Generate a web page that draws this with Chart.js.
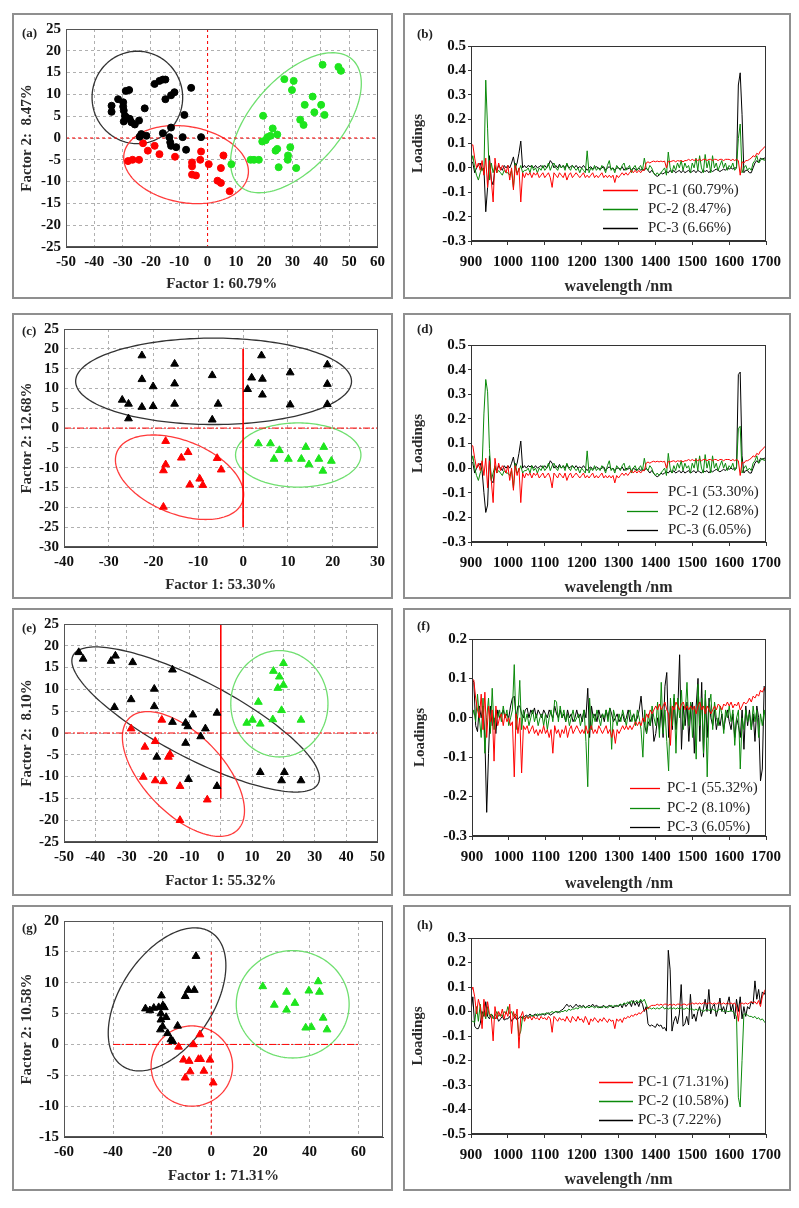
<!DOCTYPE html>
<html>
<head>
<meta charset="utf-8">
<script src="https://cdn.jsdelivr.net/npm/chart.js@4.4.1/dist/chart.umd.min.js"></script>
<style>
  html, body { margin: 0; padding: 0; background: #fff; }
  body { width: 799px; height: 1208px; position: relative; overflow: hidden; font-family: 'Liberation Serif', serif; }
  .panel { position: absolute; border: 2px solid #8f8f8f; box-sizing: border-box; background: #fff; }
  .panel canvas { position: absolute; left: 0; top: 0; }
  .tag { position: absolute; font: bold 13px 'Liberation Serif', serif; line-height: 13px; color: #222; }
</style>
</head>
<body>
<div class="panel" style="left:12px;top:13px;width:381px;height:286px"><canvas id="ca" width="377" height="282"></canvas><div class="tag" style="left:8px;top:11px">(a)</div></div>
<div class="panel" style="left:403px;top:13px;width:388px;height:286px"><canvas id="cb" width="384" height="282"></canvas><div class="tag" style="left:12px;top:12px">(b)</div></div>
<div class="panel" style="left:12px;top:313px;width:381px;height:286px"><canvas id="cc" width="377" height="282"></canvas><div class="tag" style="left:8px;top:9px">(c)</div></div>
<div class="panel" style="left:403px;top:313px;width:388px;height:286px"><canvas id="cd" width="384" height="282"></canvas><div class="tag" style="left:12px;top:7px">(d)</div></div>
<div class="panel" style="left:12px;top:608px;width:381px;height:288px"><canvas id="ce" width="377" height="284"></canvas><div class="tag" style="left:8px;top:11px">(e)</div></div>
<div class="panel" style="left:403px;top:608px;width:388px;height:288px"><canvas id="cf" width="384" height="284"></canvas><div class="tag" style="left:12px;top:9px">(f)</div></div>
<div class="panel" style="left:12px;top:905px;width:381px;height:286px"><canvas id="cg" width="377" height="282"></canvas><div class="tag" style="left:8px;top:14px">(g)</div></div>
<div class="panel" style="left:403px;top:905px;width:388px;height:286px"><canvas id="ch" width="384" height="282"></canvas><div class="tag" style="left:12px;top:11px">(h)</div></div>

<script>
// ---------- score plots: [Factor 1, Factor 2] per sample ----------
const aBlack = [[-33.9,7.4],[-33.9,6.0],[-31.6,8.9],[-29.8,8.2],[-29.8,7.2],[-28.9,10.8],[-27.7,11.0],[-29.6,6.3],[-29.2,5.1],[-28.7,4.7],[-29.6,3.8],[-27.5,4.4],[-26.9,3.6],[-25.7,3.1],[-24.2,4.0],[-22.2,6.8],[-18.7,12.4],[-17.0,13.1],[-15.8,13.4],[-14.9,13.4],[-14.9,8.9],[-12.9,9.8],[-11.7,10.5],[-5.8,11.5],[-8.2,5.3],[-12.9,2.4],[-23.4,0.9],[-21.6,0.5],[-15.8,1.1],[-13.5,0.2],[-13.2,-1.0],[-11.1,-2.1],[-8.8,0.2],[-7.6,-2.7],[-2.3,0.2],[-24.0,0.3],[-12.9,-1.8]];
const aRed = [[-22.8,-1.2],[-21.1,-2.9],[-18.7,-1.8],[-17.0,-3.7],[-28.1,-5.3],[-26.5,-5.0],[-24.2,-5.0],[-11.5,-4.3],[-5.5,-5.6],[-5.5,-6.5],[-5.5,-8.4],[-4.1,-8.6],[-2.3,-3.1],[-2.6,-5.0],[0.4,-6.0],[4.7,-6.9],[5.6,-4.0],[3.5,-9.8],[4.7,-10.3],[7.8,-12.2]];
const aGreen = [[8.4,-6.0],[15.2,-5.0],[16.4,-5.0],[18.1,-5.0],[19.6,5.1],[19.3,-0.8],[20.5,-0.5],[21.1,0.2],[22.2,0.5],[23.0,2.2],[24.6,0.8],[24.0,-2.9],[24.6,-2.5],[25.1,-6.7],[27.1,13.5],[30.4,13.1],[29.8,11.0],[29.2,-2.1],[28.4,-4.0],[28.3,-5.0],[31.3,-6.9],[32.7,4.2],[33.9,3.0],[34.3,7.6],[37.1,9.5],[37.7,5.9],[40.1,7.6],[41.3,5.3],[40.6,16.8],[46.2,16.3],[47.1,15.4]];

const cBlack = [[-22.6,18.3],[-27.0,7.1],[-25.6,6.1],[-25.6,2.4],[-22.6,12.3],[-22.6,5.3],[-20.1,10.5],[-20.1,5.5],[-15.3,16.2],[-15.3,11.2],[-15.3,6.1],[-6.9,13.3],[-5.6,6.1],[-6.9,2.1],[4.1,18.3],[1.9,12.7],[4.3,12.4],[1.0,9.8],[4.3,8.4],[10.5,14.0],[10.5,5.9],[18.8,16.0],[18.8,11.1],[18.8,6.0]];
const cRed = [[-17.3,-3.3],[-17.3,-9.2],[-17.8,-10.7],[-13.8,-7.5],[-12.3,-6.1],[-5.8,-7.6],[-4.9,-10.5],[-11.9,-14.3],[-9.7,-12.8],[-9.0,-14.4],[-17.8,-19.9]];
const cGreen = [[3.4,-3.9],[6.1,-3.9],[8.1,-5.6],[6.9,-7.8],[10.1,-7.8],[13.0,-7.8],[14.0,-4.8],[14.7,-9.2],[16.9,-7.8],[18.0,-4.8],[17.8,-10.8],[19.7,-8.3]];

const eBlack = [[-45.3,18.5],[-43.9,17.0],[-35.0,16.5],[-33.6,17.7],[-28.1,16.2],[-15.4,14.5],[-21.2,10.1],[-21.2,6.1],[-28.6,7.7],[-33.9,5.9],[-8.9,4.2],[-1.2,4.6],[-15.4,2.5],[-11.2,2.3],[-10.5,1.5],[-4.9,1.0],[-6.4,-0.8],[-11.2,-2.3],[-20.4,-5.5],[-10.3,-10.6],[-1.2,-12.2],[12.6,-9.0],[20.3,-9.0],[19.4,-10.9],[25.6,-10.9]];
const eRed = [[-28.6,1.0],[-18.8,3.0],[-24.2,-3.2],[-20.9,-1.9],[-16.2,-4.9],[-16.7,-5.5],[-24.7,-10.1],[-20.9,-10.9],[-18.3,-11.1],[-13.0,-12.2],[-4.3,-15.3],[-13.0,-20.0]];
const eGreen = [[20.0,16.0],[16.8,14.2],[18.7,12.9],[18.2,10.3],[20.0,11.0],[12.0,7.1],[8.3,2.3],[10.1,3.0],[12.6,2.1],[16.6,3.1],[19.4,5.2],[25.6,3.0]];

const gBlack = [[-6.2,14.3],[-9.3,8.8],[-10.6,7.8],[-6.9,8.8],[-25.0,5.5],[-23.4,5.9],[-20.3,7.9],[-19.7,6.3],[-19.1,6.0],[-20.5,5.0],[-18.4,4.4],[-20.5,4.0],[-19.8,2.9],[-20.7,2.4],[-17.8,1.8],[-16.4,0.8],[-15.7,0.5],[-13.7,3.0],[-21.4,6.0],[-26.8,5.8]];
const gRed = [[-13.3,-0.4],[-7.3,0.0],[-4.6,1.6],[-11.3,-2.5],[-9.0,-2.7],[-5.2,-2.4],[-4.3,-2.4],[-0.5,-2.5],[-8.6,-4.4],[-3.0,-4.3],[-10.6,-5.4],[0.8,-6.2]];
const gGreen = [[21.0,9.4],[25.7,6.4],[30.7,8.5],[30.7,5.6],[34.1,6.7],[39.8,8.7],[43.6,10.2],[44.1,8.5],[45.6,4.3],[38.5,2.7],[40.8,2.8],[47.2,2.4]];
const gTicksX = [-60, -40, -20, 0, 20, 40, 60];

// confidence ellipses: [cx, cy, ux, uy, vx, vy] in data units (black, red, green)
const aEllipses = [[-24.8,9.3,16,0,0,10.6],[-7.6,-6.1,21.9,-2.5,2.3,8.6],[31.2,3.5,19.9,14.5,11.7,-6.9]];
const cEllipses = [[-6.6,11.8,30.8,0,0,10.9],[-14.2,-12.4,14.0,-6.3,3.0,8.6],[12.3,-6.8,14.0,0,0,8.1]];
const eEllipses = [[-8.0,3.1,39.1,-14.7,5.6,7.8],[-11.9,-9.4,17.0,-13.0,9.5,6.0],[18.7,6.7,15.5,0,0,12.2]];
const gEllipses = [[-18.0,7.3,18.2,10.8,15.6,-4.2],[-7.9,-3.5,16.6,0,0,6.5],[33.2,6.5,23.0,0,0,8.7]];

// red reference lines through the origin
const aCrossV = [[0,25],[0,-25]],  aCrossH = [[-50,0],[60,0]];
const cCrossV = [[0,20],[0,-25]],  cCrossH = [[-40,0],[30,0]];
const eCrossV = [[0,25],[0,-15]],  eCrossH = [[-50,0],[50,0]];
const gCrossV = [[0,15],[0,-15]],  gCrossH = [[-40,0],[60,0]];

// ---------- loadings ----------
const wl = [900,905,910,915,920,925,930,935,940,945,
950,955,960,965,970,975,980,985,990,995,
1000,1005,1010,1015,1020,1025,1030,1035,1040,1045,
1050,1055,1060,1065,1070,1075,1080,1085,1090,1095,
1100,1105,1110,1115,1120,1125,1130,1135,1140,1145,
1150,1155,1160,1165,1170,1175,1180,1185,1190,1195,
1200,1205,1210,1215,1220,1225,1230,1235,1240,1245,
1250,1255,1260,1265,1270,1275,1280,1285,1290,1295,
1300,1305,1310,1315,1320,1325,1330,1335,1340,1345,
1350,1355,1360,1365,1370,1375,1380,1385,1390,1395,
1400,1405,1410,1415,1420,1425,1430,1435,1440,1445,
1450,1455,1460,1465,1470,1475,1480,1485,1490,1495,
1500,1505,1510,1515,1520,1525,1530,1535,1540,1545,
1550,1555,1560,1565,1570,1575,1580,1585,1590,1595,
1600,1605,1610,1615,1620,1625,1630,1635,1640,1645,
1650,1655,1660,1665,1670,1675,1680,1685,1690,1695,
1700];

const bPC1 = [0.09,0.095,0.04,0.0,0.02,-0.01,0.03,-0.03,0.04,-0.08,
0.03,-0.05,-0.14,0.04,-0.02,0.02,-0.01,0.01,0.0,-0.02,
0.01,-0.05,0.0,-0.09,0.01,-0.03,0.0,-0.14,-0.02,-0.04,
-0.02,-0.03,-0.02,-0.04,-0.02,-0.03,-0.02,-0.04,-0.03,-0.02,
-0.04,-0.03,-0.02,-0.04,-0.08,-0.02,-0.03,-0.04,-0.02,-0.03,
-0.04,-0.02,-0.05,-0.03,-0.02,-0.04,-0.03,-0.02,-0.03,-0.04,
-0.03,-0.02,-0.04,-0.03,-0.04,-0.03,-0.02,-0.04,-0.03,-0.04,
-0.03,-0.02,-0.04,-0.03,-0.04,-0.03,-0.04,-0.03,-0.06,-0.03,
-0.04,-0.03,-0.02,-0.03,-0.02,-0.03,-0.02,-0.01,-0.02,-0.01,
-0.02,-0.01,-0.02,-0.01,-0.01,0.02,0.025,0.02,0.025,0.028,
0.025,0.028,0.025,0.028,0.025,0.028,0.0,0.028,0.025,0.028,
0.03,0.025,0.03,0.028,0.03,0.025,0.03,0.03,0.035,0.03,
0.035,0.03,0.035,0.03,0.035,0.03,0.035,0.035,0.03,0.035,
0.035,0.03,0.035,0.035,0.03,0.035,0.035,0.03,0.035,0.035,
0.035,0.03,0.035,0.03,0.035,0.03,-0.03,0.025,0.02,0.03,
0.03,0.035,0.04,0.05,0.045,0.06,0.055,0.07,0.075,0.085,
0.09];
const bPC2 = [0.02,0.05,0.0,-0.03,-0.05,-0.02,0.0,-0.02,0.36,0.16,
-0.05,0.02,-0.02,0.01,-0.02,-0.01,-0.02,-0.03,-0.01,-0.02,
-0.02,-0.03,-0.01,-0.08,0.02,-0.02,-0.01,0.01,-0.02,-0.01,
-0.01,0.0,-0.02,0.01,-0.01,0.0,-0.02,0.0,-0.01,0.01,
-0.01,0.0,0.02,-0.01,0.01,0.02,0.0,-0.01,0.01,0.0,
0.01,-0.01,0.02,0.0,-0.01,0.01,0.0,-0.01,0.0,-0.02,
0.0,-0.01,-0.02,0.07,-0.02,0.0,-0.01,0.01,-0.01,0.0,
-0.01,0.01,0.0,-0.02,0.01,0.03,-0.01,0.0,-0.02,0.01,
0.0,-0.01,0.01,0.02,-0.01,0.0,0.01,-0.02,0.0,0.01,
-0.01,0.0,0.01,-0.01,0.04,0.0,-0.01,0.01,0.0,-0.02,
-0.03,-0.02,-0.03,-0.02,-0.01,0.0,-0.03,0.065,0.0,-0.02,
0.01,-0.01,0.02,0.0,0.03,-0.01,0.02,0.0,0.01,-0.02,
0.02,0.0,0.04,-0.01,0.05,0.0,-0.02,0.055,0.0,0.03,
-0.02,0.05,0.0,0.02,-0.01,0.01,0.03,0.0,0.02,-0.01,
0.01,0.0,0.02,-0.01,0.0,0.12,0.18,-0.02,0.0,0.01,
-0.01,0.0,-0.01,0.02,0.03,0.05,0.02,0.03,0.04,0.03,
0.04];
const bPC3 = [0.03,0.02,-0.02,0.0,0.01,0.02,-0.01,0.0,-0.18,-0.08,
0.05,-0.05,-0.07,0.0,-0.01,0.01,0.0,-0.01,0.01,0.0,
0.01,0.0,0.02,0.045,0.0,0.02,0.06,0.11,0.0,0.01,
0.0,0.01,0.005,0.01,0.0,0.01,0.0,0.005,0.01,0.0,
0.01,0.0,0.01,0.03,0.02,0.0,0.01,0.0,0.015,0.0,
0.01,0.0,0.015,0.0,0.005,0.01,0.0,0.01,0.0,0.005,
0.0,0.01,0.0,-0.01,0.0,0.005,-0.005,0.0,0.005,0.0,
-0.005,0.0,0.005,-0.01,0.0,0.005,-0.005,0.0,-0.01,0.0,
0.0,-0.005,0.005,-0.01,0.0,-0.005,0.0,-0.01,0.0,-0.005,
-0.01,0.0,-0.01,-0.005,-0.01,0.0,-0.01,-0.02,-0.01,-0.02,
-0.03,-0.035,-0.03,-0.02,-0.025,-0.02,-0.015,-0.02,-0.01,-0.02,
-0.01,-0.02,-0.015,-0.01,-0.02,-0.01,-0.02,-0.015,-0.01,-0.02,
-0.015,-0.01,-0.02,-0.01,-0.015,-0.02,-0.01,-0.015,-0.01,-0.02,
-0.01,-0.015,-0.01,-0.005,-0.01,-0.015,-0.01,-0.005,-0.01,0.0,
-0.005,0.0,-0.005,0.0,0.0,0.34,0.39,0.22,-0.02,-0.01,
-0.01,-0.02,-0.02,0.0,0.02,0.03,0.02,0.04,0.035,0.04,
0.04];

const dPC1 = [0.095,0.09,0.04,0.0,0.02,-0.01,0.03,-0.03,0.04,-0.08,
0.03,-0.05,-0.14,0.04,-0.02,0.02,-0.01,0.01,0.0,-0.02,
0.01,-0.05,0.0,-0.09,0.01,-0.03,0.0,-0.14,-0.02,-0.04,
-0.02,-0.03,-0.02,-0.04,-0.02,-0.03,-0.02,-0.04,-0.03,-0.02,
-0.04,-0.03,-0.02,-0.04,-0.08,-0.02,-0.03,-0.04,-0.02,-0.03,
-0.04,-0.02,-0.05,-0.03,-0.02,-0.04,-0.03,-0.02,-0.03,-0.04,
-0.03,-0.02,-0.04,-0.03,-0.04,-0.03,-0.02,-0.04,-0.03,-0.04,
-0.03,-0.02,-0.04,-0.03,-0.04,-0.03,-0.04,-0.03,-0.06,-0.03,
-0.04,-0.03,-0.02,-0.03,-0.02,-0.03,-0.02,-0.01,-0.02,-0.01,
-0.02,-0.01,-0.02,-0.01,-0.01,0.02,0.025,0.02,0.025,0.028,
0.025,0.028,0.025,0.028,0.025,0.028,0.0,0.028,0.025,0.028,
0.03,0.025,0.03,0.028,0.03,0.025,0.03,0.03,0.035,0.03,
0.035,0.03,0.035,0.03,0.035,0.03,0.035,0.035,0.03,0.035,
0.035,0.03,0.035,0.035,0.03,0.035,0.035,0.03,0.035,0.035,
0.035,0.03,0.035,0.03,0.035,0.03,-0.03,0.025,0.02,0.03,
0.03,0.035,0.04,0.05,0.045,0.06,0.055,0.07,0.075,0.085,
0.09];
const dPC2 = [0.02,0.05,0.0,-0.03,-0.05,-0.02,0.0,0.22,0.36,0.31,
0.08,-0.05,-0.02,0.01,-0.02,-0.01,-0.02,-0.03,-0.01,-0.02,
-0.02,-0.03,-0.01,-0.08,0.02,-0.02,-0.01,0.01,-0.02,-0.01,
-0.01,0.0,-0.02,0.01,-0.01,0.0,-0.02,0.0,-0.01,0.01,
-0.01,0.0,0.02,-0.01,0.01,0.02,0.0,-0.01,0.01,0.0,
0.01,-0.01,0.02,0.0,-0.01,0.01,0.0,-0.01,0.0,-0.02,
0.0,-0.01,-0.02,0.07,-0.02,0.0,-0.01,0.01,-0.01,0.0,
-0.01,0.01,0.0,-0.02,0.01,0.03,-0.01,0.0,-0.02,0.01,
0.0,-0.01,0.01,0.02,-0.01,0.0,0.01,-0.02,0.0,0.01,
-0.01,0.0,0.01,-0.01,0.04,0.0,-0.01,0.01,0.0,-0.02,
-0.03,-0.02,-0.03,-0.02,-0.01,0.0,-0.03,0.06,0.0,-0.02,
0.01,-0.01,0.02,0.0,0.03,-0.01,0.02,0.0,0.01,-0.02,
0.02,0.0,0.04,-0.01,0.05,0.0,-0.02,0.055,0.0,0.03,
-0.02,0.05,0.0,0.02,-0.01,0.01,0.03,0.0,0.02,-0.01,
0.01,0.0,0.02,-0.01,0.0,0.16,0.17,-0.02,0.0,0.01,
-0.01,0.0,-0.01,0.02,0.03,0.05,0.02,0.03,0.04,0.03,
0.04];
const dPC3 = [0.03,0.02,-0.02,0.0,0.01,0.02,-0.01,-0.1,-0.18,-0.15,
0.05,-0.05,-0.06,0.0,-0.01,0.01,0.0,-0.01,0.01,0.0,
0.01,0.0,0.02,0.045,0.0,0.02,0.06,0.11,0.0,0.01,
0.0,0.01,0.005,0.01,0.0,0.01,0.0,0.005,0.01,0.0,
0.01,0.0,0.01,0.03,0.02,0.0,0.01,0.0,0.015,0.0,
0.01,0.0,0.015,0.0,0.005,0.01,0.0,0.01,0.0,0.005,
0.0,0.01,0.0,-0.01,0.0,0.005,-0.005,0.0,0.005,0.0,
-0.005,0.0,0.005,-0.01,0.0,0.005,-0.005,0.0,-0.01,0.0,
0.0,-0.005,0.005,-0.01,0.0,-0.005,0.0,-0.01,0.0,-0.005,
-0.01,0.0,-0.01,-0.005,-0.01,0.0,-0.01,-0.02,-0.01,-0.02,
-0.03,-0.035,-0.03,-0.02,-0.025,-0.02,-0.015,-0.02,-0.01,-0.02,
-0.01,-0.02,-0.015,-0.01,-0.02,-0.01,-0.02,-0.015,-0.01,-0.02,
-0.015,-0.01,-0.02,-0.01,-0.015,-0.02,-0.01,-0.015,-0.01,-0.02,
-0.01,-0.015,-0.01,-0.005,-0.01,-0.015,-0.01,-0.005,-0.01,0.0,
-0.005,0.0,-0.005,0.0,0.0,0.38,0.39,0.05,-0.02,-0.01,
-0.01,-0.02,-0.02,0.0,0.02,0.03,0.02,0.04,0.035,0.04,
0.04];

const fPC1 = [0.1,0.095,0.05,0.02,0.0,0.06,-0.03,0.065,-0.05,0.03,
-0.01,0.02,-0.11,0.03,-0.02,0.0,0.01,-0.02,0.01,-0.01,
0.0,-0.02,-0.01,-0.15,0.01,-0.04,0.0,-0.14,-0.02,-0.03,
-0.02,-0.04,-0.03,-0.02,-0.04,-0.03,-0.045,-0.03,-0.04,-0.02,
-0.04,-0.03,-0.05,-0.03,-0.09,-0.02,-0.04,-0.03,-0.05,-0.03,
-0.04,-0.02,-0.05,-0.03,-0.02,-0.04,-0.03,-0.02,-0.03,-0.04,
-0.03,-0.04,-0.02,-0.04,-0.03,-0.02,-0.04,-0.03,-0.04,-0.02,
-0.03,-0.04,-0.03,-0.02,-0.04,-0.03,-0.05,-0.03,-0.065,-0.03,
-0.04,-0.03,-0.02,-0.03,-0.02,-0.03,-0.02,-0.03,-0.02,-0.01,
-0.02,-0.01,-0.02,0.0,-0.01,0.01,0.0,0.02,0.01,0.02,
0.03,0.02,0.035,0.02,0.03,0.04,0.02,0.01,-0.07,0.03,
0.02,0.04,0.03,0.02,0.035,0.04,0.02,0.03,0.02,0.03,
0.02,0.03,0.01,0.03,0.04,0.02,0.03,0.01,0.03,0.02,
0.01,0.02,0.03,0.02,0.035,0.03,0.02,0.035,0.03,0.04,
0.03,0.04,0.025,0.035,0.03,0.04,0.02,0.03,0.04,0.035,
0.04,0.05,0.04,0.055,0.05,0.06,0.055,0.07,0.065,0.075,
0.08];
const fPC2 = [0.0,0.02,-0.01,0.06,0.0,-0.05,0.05,-0.09,0.0,0.05,
-0.04,0.075,-0.03,0.02,0.0,0.02,-0.01,0.03,0.0,0.02,
-0.02,0.0,0.02,0.135,-0.03,0.01,0.095,-0.03,0.02,-0.01,
0.01,-0.02,0.0,0.02,-0.01,0.01,-0.02,0.0,0.01,-0.02,
0.01,-0.03,0.0,0.02,-0.01,0.045,0.04,-0.01,0.03,0.0,
0.02,-0.01,0.01,-0.02,0.0,0.02,-0.01,0.0,0.01,-0.02,
0.0,0.02,-0.06,-0.175,0.05,-0.03,0.01,-0.01,0.02,0.0,
-0.02,0.01,0.0,0.02,-0.01,0.025,-0.08,0.02,0.0,-0.02,
0.01,-0.01,0.02,0.0,-0.02,0.01,0.02,-0.01,0.01,-0.02,
0.02,0.0,-0.03,-0.1,0.02,-0.04,0.01,-0.02,0.03,0.0,
-0.02,0.04,-0.05,0.09,-0.04,0.02,-0.06,-0.135,0.05,-0.02,
0.06,-0.09,0.05,0.0,0.07,-0.03,0.01,0.09,-0.02,0.04,
-0.05,0.03,-0.105,0.085,-0.02,0.05,-0.09,0.07,-0.15,0.03,
0.06,-0.03,0.04,0.0,-0.02,0.03,0.01,-0.04,0.02,0.0,
0.03,-0.01,0.02,-0.07,0.0,0.02,-0.13,0.0,-0.03,0.02,
-0.01,0.01,-0.03,0.03,-0.01,0.02,-0.05,0.01,-0.02,0.02,
-0.02];
const fPC3 = [0.1,0.09,-0.02,-0.035,0.03,0.0,0.03,-0.05,-0.24,-0.09,
0.03,-0.02,0.0,-0.04,0.02,0.0,0.01,0.02,0.0,0.01,
0.0,0.03,0.05,0.055,0.0,0.03,0.03,0.01,0.0,0.02,
0.025,0.0,0.02,0.01,0.025,0.0,0.02,0.01,0.0,0.02,
0.01,0.0,0.02,0.01,0.0,0.03,0.01,0.0,0.02,0.0,
0.01,-0.01,0.02,0.0,0.01,-0.01,0.0,0.02,0.0,0.01,
-0.01,0.02,0.0,0.075,-0.05,0.03,0.0,0.01,-0.01,0.02,
0.0,0.01,-0.01,0.02,0.0,0.025,0.01,-0.01,0.0,0.01,
-0.01,0.0,0.01,-0.01,0.0,0.02,-0.01,0.0,0.01,-0.01,
0.0,0.02,0.055,0.0,-0.02,-0.04,-0.01,-0.02,0.01,-0.06,
-0.04,0.0,-0.03,0.02,-0.05,0.08,0.115,-0.05,0.03,-0.03,
0.05,-0.03,0.02,0.16,-0.08,0.03,-0.02,0.04,-0.06,0.02,
0.04,-0.09,0.03,0.1,-0.06,0.09,-0.1,0.06,-0.05,0.05,
0.0,-0.02,0.02,-0.03,0.0,-0.02,0.01,-0.03,0.0,0.02,
-0.01,-0.03,0.01,-0.05,0.0,-0.02,-0.05,0.02,-0.08,0.03,
-0.02,0.02,-0.03,0.01,-0.06,0.03,0.0,-0.16,-0.13,0.08,
0.06];

const hPC1 = [0.08,0.1,0.06,-0.01,0.05,0.02,-0.07,0.05,-0.02,0.04,
-0.01,-0.02,-0.12,0.02,-0.03,0.0,-0.02,0.01,-0.03,0.0,
-0.02,0.03,-0.09,0.0,-0.03,0.01,-0.15,-0.02,0.0,-0.04,
-0.02,-0.03,-0.02,-0.035,-0.02,-0.03,-0.025,-0.035,-0.02,-0.03,
-0.025,-0.035,-0.02,-0.03,-0.085,-0.02,-0.03,-0.04,-0.025,-0.035,
-0.03,-0.04,-0.02,-0.035,-0.045,-0.02,-0.03,-0.04,-0.02,-0.035,
-0.03,-0.045,-0.02,-0.035,-0.055,-0.03,-0.04,-0.025,-0.035,-0.045,
-0.03,-0.04,-0.025,-0.035,-0.045,-0.03,-0.04,-0.035,-0.07,-0.03,
-0.04,-0.03,-0.045,-0.025,-0.03,-0.02,-0.025,-0.015,-0.02,-0.01,
-0.015,-0.005,-0.01,0.0,0.005,0.01,0.015,0.02,0.025,0.025,
0.025,0.03,0.025,0.03,0.025,0.03,0.03,0.025,0.03,0.025,
0.03,0.025,0.03,0.03,0.025,0.03,0.03,0.025,0.03,0.03,
0.035,0.03,0.035,0.03,0.035,0.03,0.035,0.035,0.03,0.035,
0.035,0.03,0.035,0.03,0.035,0.035,0.03,0.035,0.03,0.035,
0.03,0.035,0.03,0.035,0.02,-0.04,0.03,0.035,0.03,0.035,
0.03,0.035,0.04,0.035,0.04,0.03,0.045,0.02,0.06,0.08,
0.095];
const hPC2 = [-0.04,-0.04,-0.045,0.02,-0.04,0.03,-0.03,0.0,-0.03,0.02,
-0.02,-0.01,-0.03,-0.02,0.0,-0.02,-0.01,-0.02,0.0,-0.01,
0.02,-0.01,0.0,-0.02,-0.01,-0.02,-0.1,-0.08,-0.02,-0.03,
-0.02,-0.025,-0.02,-0.015,-0.02,-0.015,-0.01,-0.015,-0.01,-0.01,
-0.01,-0.005,-0.01,-0.005,0.0,-0.005,0.0,0.0,-0.005,0.0,
0.0,0.005,0.0,0.01,0.005,0.01,0.01,0.015,0.01,0.02,
0.015,0.02,0.015,0.02,0.015,0.02,0.02,0.015,0.02,0.015,
0.02,0.015,0.02,0.02,0.015,0.02,0.025,0.02,0.025,0.02,
0.025,0.03,0.025,0.035,0.03,0.04,0.03,0.045,0.035,0.04,
0.045,0.035,0.05,0.04,0.05,0.03,0.01,0.015,0.01,0.015,
0.01,0.015,0.01,0.015,0.02,0.01,0.015,0.01,0.015,0.01,
0.015,0.01,0.015,0.01,0.015,0.01,0.01,0.015,0.01,0.01,
0.01,0.005,0.01,0.005,0.01,0.005,0.0,0.005,0.01,0.005,
0.005,0.01,0.005,0.0,0.005,0.01,0.005,0.0,0.005,0.0,
0.0,0.005,0.0,-0.01,-0.02,-0.35,-0.39,-0.2,-0.01,-0.01,
-0.015,-0.02,-0.02,-0.025,-0.02,-0.03,-0.025,-0.035,-0.03,-0.04,
-0.05];
const hPC3 = [0.0,0.06,-0.06,-0.07,-0.07,-0.05,0.0,-0.02,0.04,-0.02,
-0.03,-0.01,-0.02,-0.03,-0.02,-0.04,-0.03,-0.02,-0.035,-0.03,
-0.03,-0.02,-0.04,-0.03,-0.02,-0.035,-0.025,-0.02,-0.03,-0.02,
-0.015,-0.02,-0.01,-0.02,-0.015,-0.01,-0.02,-0.01,-0.015,-0.01,
-0.015,-0.01,-0.005,-0.015,-0.01,-0.005,0.0,-0.005,0.0,0.005,
0.01,0.02,0.03,0.02,0.025,0.015,0.02,0.03,0.02,0.025,
0.02,0.025,0.015,0.02,0.025,0.02,0.03,0.02,0.025,0.02,
0.015,0.02,0.025,0.015,0.02,0.025,0.02,0.015,0.02,0.025,
0.02,0.03,0.015,0.035,0.02,0.03,0.04,0.02,0.045,0.025,
0.04,0.02,0.045,0.03,0.0,0.02,-0.05,-0.06,-0.055,-0.06,
-0.065,-0.05,-0.06,-0.055,-0.07,-0.065,-0.08,0.25,0.17,-0.08,
-0.04,-0.02,-0.05,-0.01,0.11,-0.06,-0.05,-0.02,-0.055,0.07,
-0.03,-0.01,-0.04,0.0,0.02,-0.02,0.01,0.05,0.0,0.09,
-0.01,0.02,0.03,-0.02,0.01,0.055,0.0,0.02,-0.01,0.03,
0.06,0.0,0.03,-0.03,0.05,0.0,0.06,-0.03,0.02,-0.02,
0.02,0.01,0.04,0.03,0.125,0.05,0.09,0.03,0.08,0.07,
0.085];

const bLabels = ['PC-1 (60.79%)', 'PC-2 (8.47%)', 'PC-3 (6.66%)'];
const dLabels = ['PC-1 (53.30%)', 'PC-2 (12.68%)', 'PC-3 (6.05%)'];
const fLabels = ['PC-1 (55.32%)', 'PC-2 (8.10%)', 'PC-3 (6.05%)'];
const hLabels = ['PC-1 (71.31%)', 'PC-2 (10.58%)', 'PC-3 (7.22%)'];

// ---------- drawing ----------
const SERIF = "'Liberation Serif', 'Times New Roman', serif";
Chart.defaults.font.family = SERIF;
Chart.defaults.color = '#111';

const toXY = pts => pts.map(p => ({x: p[0], y: p[1]}));

function framePlugin(color) {
    return {
        id: 'frame',
        afterDraw(chart) {
            const {ctx, chartArea: a} = chart;
            ctx.save();
            ctx.strokeStyle = color;
            ctx.lineWidth = 1;
            ctx.strokeRect(Math.round(a.left) + 0.5, Math.round(a.top) + 0.5,
                Math.round(a.right - a.left) - 1, Math.round(a.bottom - a.top) - 1);
            ctx.restore();
        }
    };
}

function ellipsePlugin(items, colors) {
    return {
        id: 'ellipses',
        beforeDatasetsDraw(chart) {
            const {ctx, chartArea: a, scales: {x, y}} = chart;
            ctx.save();
            ctx.beginPath();
            ctx.rect(a.left, a.top, a.right - a.left, a.bottom - a.top);
            ctx.clip();
            items.forEach((e, k) => {
                const [cx, cy, ux, uy, vx, vy] = e;
                ctx.beginPath();
                for (let s = 0; s <= 180; s++) {
                    const t = s / 180 * Math.PI * 2;
                    const px = x.getPixelForValue(cx + Math.cos(t) * ux + Math.sin(t) * vx);
                    const py = y.getPixelForValue(cy + Math.cos(t) * uy + Math.sin(t) * vy);
                    if (s === 0) ctx.moveTo(px, py); else ctx.lineTo(px, py);
                }
                ctx.closePath();
                ctx.strokeStyle = colors[k];
                ctx.lineWidth = 1.3;
                ctx.stroke();
            });
            ctx.restore();
        }
    };
}

function legendPlugin(pos) {
    return {
        id: 'pcLegend',
        afterDraw(chart) {
            const ctx = chart.ctx;
            ctx.save();
            ctx.font = '15px ' + SERIF;
            ctx.textBaseline = 'middle';
            chart.data.datasets.forEach((ds, i) => {
                const y = Math.round(pos.y + i * pos.dy) + 0.5;
                ctx.strokeStyle = ds.borderColor;
                ctx.lineWidth = 1.3;
                ctx.beginPath();
                ctx.moveTo(pos.x, y);
                ctx.lineTo(pos.x + pos.len, y);
                ctx.stroke();
                ctx.fillStyle = '#222';
                ctx.fillText(ds.label, pos.tx, y);
            });
            ctx.restore();
        }
    };
}

const tickFont = {size: 15, weight: 'bold'};
const titleFont = {size: 15, weight: 'bold'};

// box = [y-axis width, right pad, top pad, x-axis height]
function scatterPanel(id, o) {
    const cols = ['#000000', '#ff0000', '#1de51d'];
    const datasets = o.groups.map((pts, i) => ({
        data: toXY(pts), showLine: false, pointStyle: o.marker, pointRadius: o.r,
        backgroundColor: cols[i], borderColor: cols[i], borderWidth: 1
    }));
    datasets.push({data: toXY(o.vLine), showLine: true, pointRadius: 0, borderColor: '#ff0000', borderWidth: 1, borderDash: o.vDash});
    datasets.push({data: toXY(o.hLine), showLine: true, pointRadius: 0, borderColor: '#ff0000', borderWidth: 1, borderDash: o.hDash});

    new Chart(document.getElementById(id), {
        type: 'scatter',
        data: {datasets},
        options: {
            responsive: false, animation: false, devicePixelRatio: 1, events: [],
            layout: {padding: {left: 0, right: o.box[1], top: o.box[2], bottom: 0}},
            plugins: {legend: {display: false}, tooltip: {enabled: false}},
            scales: {
                x: {
                    type: 'linear', min: o.x[0], max: o.x[1],
                    ticks: {stepSize: o.x[2], font: tickFont, color: '#111', padding: 6, maxRotation: 0, autoSkip: false,
                        callback: v => String(v)},
                    afterBuildTicks: s => { if (o.xTicks) s.ticks = o.xTicks.map(v => ({value: v})); },
                    grid: {color: '#b0b0b0', drawTicks: false},
                    border: {display: true, color: '#444', dash: [3, 3]},
                    title: {display: true, text: o.xTitle, font: titleFont, color: '#2a2a2a', padding: {top: 0, bottom: o.xtp}},
                    afterFit: s => { s.height = o.box[3]; }
                },
                y: {
                    type: 'linear', min: o.y[0], max: o.y[1],
                    ticks: {stepSize: o.y[2], font: tickFont, color: '#111', padding: 5, autoSkip: false},
                    grid: {color: '#b0b0b0', drawTicks: false},
                    border: {display: true, color: '#444', dash: [3, 3]},
                    title: {display: true, text: o.yTitle, font: titleFont, color: '#2a2a2a', padding: {top: 4, bottom: 0}},
                    afterFit: s => { s.width = o.box[0]; }
                }
            }
        },
        plugins: [ellipsePlugin(o.ellipses, ['#333333', '#ff3a3a', '#6fdf6f']), framePlugin('#555')]
    });
}

function loadingPanel(id, o) {
    const cols = ['#ff0000', '#0b8a0b', '#000000'];
    const datasets = o.series.map((s, i) => ({
        label: o.labels[i],
        data: wl.map((w, k) => ({x: w, y: s[k]})),
        borderColor: cols[i], borderWidth: 1, pointRadius: 0, tension: 0
    }));
    new Chart(document.getElementById(id), {
        type: 'line',
        data: {datasets},
        options: {
            responsive: false, animation: false, devicePixelRatio: 1, events: [],
            layout: {padding: {left: 0, right: o.box[1], top: o.box[2], bottom: 0}},
            plugins: {legend: {display: false}, tooltip: {enabled: false}},
            scales: {
                x: {
                    type: 'linear', min: 900, max: 1700,
                    ticks: {stepSize: 100, font: tickFont, color: '#111', padding: 8, maxRotation: 0, autoSkip: false,
                        callback: v => String(v)},
                    grid: {display: true, drawOnChartArea: false, drawTicks: true, tickLength: 4, color: '#333'},
                    border: {display: true, color: '#333'},
                    title: {display: true, text: 'wavelength /nm', font: {size: 16, weight: 'bold'}, color: '#2a2a2a', padding: {top: 0, bottom: o.xtp}},
                    afterFit: s => { s.height = o.box[3]; }
                },
                y: {
                    type: 'linear', min: o.y[0], max: o.y[1],
                    ticks: {stepSize: 0.1, font: tickFont, color: '#111', padding: 2, autoSkip: false,
                        callback: v => Math.abs(v) < 1e-9 ? '0.0' : v.toFixed(1)},
                    grid: {display: true, drawOnChartArea: false, drawTicks: true, tickLength: 3, color: '#333'},
                    border: {display: true, color: '#333'},
                    title: {display: true, text: 'Loadings', font: titleFont, color: '#2a2a2a', padding: {top: o.ytp, bottom: 0}},
                    afterFit: s => { s.width = o.box[0]; }
                }
            }
        },
        plugins: [framePlugin('#333'), legendPlugin(o.legend)]
    });
}

const DASH = [3, 3], DASHDOT = [7, 2, 2, 2], SOLID = [];

scatterPanel('ca', {groups: [aBlack, aRed, aGreen], marker: 'circle', r: 3.5,
    x: [-50, 60, 10], y: [-25, 25, 5], box: [52, 12, 13, 50], xtp: 4,
    xTitle: 'Factor 1: 60.79%', yTitle: 'Factor 2:  8.47%',
    vLine: aCrossV, hLine: aCrossH, vDash: DASH, hDash: DASH, ellipses: aEllipses});
scatterPanel('cc', {groups: [cBlack, cRed, cGreen], marker: 'triangle', r: 4.5,
    x: [-40, 30, 10], y: [-30, 25, 5], box: [50, 11, 13, 50], xtp: 3,
    xTitle: 'Factor 1: 53.30%', yTitle: 'Factor 2: 12.68%',
    vLine: cCrossV, hLine: cCrossH, vDash: SOLID, hDash: DASHDOT, ellipses: cEllipses});
scatterPanel('ce', {groups: [eBlack, eRed, eGreen], marker: 'triangle', r: 4.5,
    x: [-50, 50, 10], y: [-25, 25, 5], box: [50, 11, 13, 52], xtp: 4,
    xTitle: 'Factor 1: 55.32%', yTitle: 'Factor 2:  8.10%',
    vLine: eCrossV, hLine: eCrossH, vDash: SOLID, hDash: DASHDOT, ellipses: eEllipses});
scatterPanel('cg', {groups: [gBlack, gRed, gGreen], marker: 'triangle', r: 4.5,
    x: [-60, 70, 20], y: [-15, 20, 5], box: [50, 8, 13, 52], xtp: 4, xTicks: gTicksX,
    xTitle: 'Factor 1: 71.31%', yTitle: 'Factor 2: 10.58%',
    vLine: gCrossV, hLine: gCrossH, vDash: DASH, hDash: DASHDOT, ellipses: gEllipses});

loadingPanel('cb', {series: [bPC1, bPC2, bPC3], labels: bLabels, y: [-0.3, 0.5],
    box: [66, 19, 31, 56], xtp: 1, ytp: 4, legend: {x: 198, len: 35, tx: 243, y: 175, dy: 19}});
loadingPanel('cd', {series: [dPC1, dPC2, dPC3], labels: dLabels, y: [-0.3, 0.5],
    box: [66, 19, 30, 55], xtp: 0, ytp: 4, legend: {x: 222, len: 31, tx: 263, y: 177, dy: 19}});
loadingPanel('cf', {series: [fPC1, fPC2, fPC3], labels: fLabels, y: [-0.3, 0.2],
    box: [67, 18, 29, 58], xtp: 1, ytp: 6, legend: {x: 225, len: 30, tx: 262, y: 178, dy: 19.5}});
loadingPanel('ch', {series: [hPC1, hPC2, hPC3], labels: hLabels, y: [-0.5, 0.3],
    box: [66, 20, 31, 55], xtp: 0, ytp: 4, legend: {x: 194, len: 34, tx: 233, y: 175, dy: 19}});
</script>
</body>
</html>
